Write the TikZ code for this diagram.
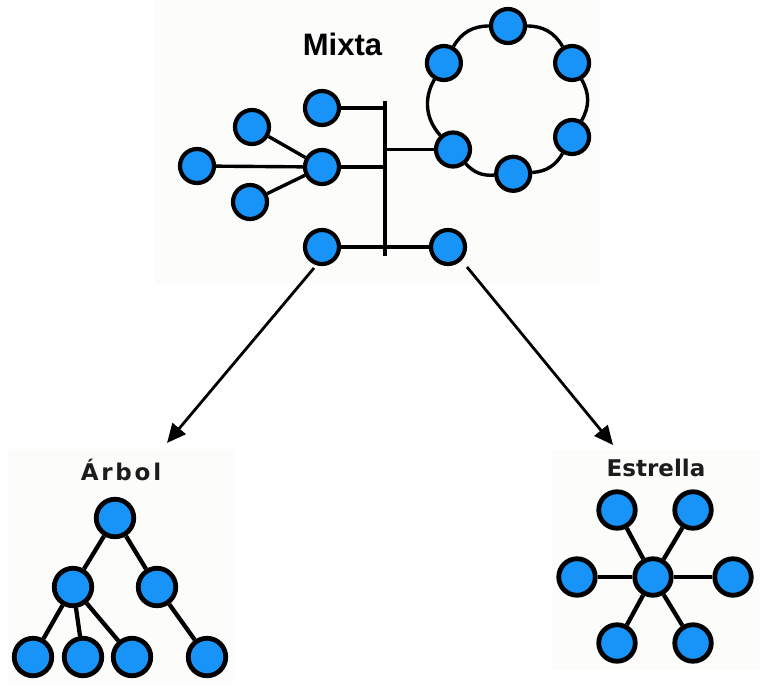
\documentclass[tikz,border=0pt]{standalone}
\usepackage{fontspec}
\usetikzlibrary{arrows.meta}
\newfontfamily\mixtafont{Liberation Sans}
\newfontfamily\handfontA[LetterSpace=12]{DejaVu Sans}
\newfontfamily\handfontB{DejaVu Sans}
\definecolor{nodeblue}{RGB}{24,148,248}
\definecolor{panelbg}{RGB}{252,252,250}
\definecolor{labelgray}{RGB}{28,28,28}
\tikzset{
  dot/.style={circle, draw=black, fill=nodeblue, line width=4.2pt, minimum size=34pt, inner sep=0pt},
  bigdot/.style={dot, line width=4.8pt, minimum size=37.5pt},
  stardot/.style={dot, line width=4.8pt, minimum size=36.5pt},
  link/.style={line width=3.4pt, draw=black},
  thicklink/.style={line width=4.3pt, draw=black},
  flow/.style={line width=2.8pt, draw=black, -{Triangle[length=19pt,width=17pt]}},
  title/.style={font=\mixtafont\bfseries\fontsize{31}{31}\selectfont, inner sep=0pt},
  handlabel/.style={text=labelgray, inner sep=0pt}
}
\begin{document}
\begin{tikzpicture}[x=1pt,y=-1pt]
\useasboundingbox (0,0) rectangle (767,685);
\fill[panelbg] (155,0) rectangle (600,285);
\fill[panelbg] (8,449) rectangle (233,685);
\fill[panelbg] (552,450) rectangle (760,670);

% ---------- Mixta ----------
\node[title] (mixta) at (342.5,44.5) {Mixta};
\coordinate (bustop) at (385,101);
\coordinate (busbot) at (385,256);

\node[dot] (ring1) at (443.9,63) {};
\node[dot] (ring2) at (508,26) {};
\node[dot] (ring3) at (572.1,63) {};
\node[dot] (ring4) at (572.1,137) {};
\node[dot] (ring5) at (513.2,173.8) {};
\node[dot] (ring6) at (453,149.5) {};
\node[dot] (top) at (322,108) {};
\node[dot] (hub) at (322,167) {};
\node[dot] (hubl) at (197,166) {};
\node[dot] (hubul) at (252,127) {};
\node[dot] (hubll) at (250,202) {};
\node[dot] (botl) at (322,247) {};
\node[dot] (botr) at (448,247) {};

\draw[link] (bustop) -- (busbot);
\draw[link] (top) -- (top -| bustop);
\draw[link] (hub) -- (hub -| bustop);
\draw[link] (ring6 -| bustop) -- (ring6);
\draw[link] (botl) -- (botr);
\draw[link] (hub) -- (hubl);
\draw[link] (hub) -- (hubul);
\draw[link] (hub) -- (hubll);
\draw[link] (ring1) to[bend left=30] (ring2);
\draw[link] (ring2) to[bend left=30] (ring3);
\draw[link] (ring3) to[bend left=30] (ring4);
\draw[link] (ring4) to[bend left=28] (ring5);
\draw[link] (ring5) to[bend left=26] (ring6);
\draw[link] (ring6) to[bend left=36] (ring1);

% ---------- Arbol ----------
\node[handlabel, font=\handfontA\bfseries\fontsize{23}{23}\selectfont, anchor=base] (arbol) at (121,480.5) {Árbol};
\node[bigdot] (root) at (115,518) {};
\node[bigdot] (ml) at (73,587) {};
\node[bigdot] (mr) at (157,587) {};
\node[bigdot] (lf1) at (33,657) {};
\node[bigdot] (lf2) at (83,657) {};
\node[bigdot] (lf3) at (132,657) {};
\node[bigdot] (lf4) at (207,657) {};
\draw[thicklink] (root) -- (ml);
\draw[thicklink] (root) -- (mr);
\draw[thicklink] (ml) -- (lf1);
\draw[thicklink] (ml) -- (lf2);
\draw[thicklink] (ml) -- (lf3);
\draw[thicklink] (mr) -- (lf4);

% ---------- Estrella ----------
\node[handlabel, font=\handfontB\bfseries\fontsize{23}{23}\selectfont, anchor=base] (estrella) at (656,476) {Estrella};
\node[stardot] (sc) at (653,577) {};
\node[stardot] (stl) at (617,510) {};
\node[stardot] (str) at (693,510) {};
\node[stardot] (sl) at (577,577) {};
\node[stardot] (sr) at (733,577) {};
\node[stardot] (sbl) at (617,643) {};
\node[stardot] (sbr) at (693,643) {};
\draw[thicklink] (sc) -- (stl);
\draw[thicklink] (sc) -- (str);
\draw[thicklink] (sc) -- (sl);
\draw[thicklink] (sc) -- (sr);
\draw[thicklink] (sc) -- (sbl);
\draw[thicklink] (sc) -- (sbr);

% ---------- arrows ----------
\coordinate (a1s) at (314,268);
\coordinate (a1e) at (167,443);
\coordinate (a2s) at (467,267);
\coordinate (a2e) at (613,445);
\draw[flow] (a1s) -- (a1e);
\draw[flow] (a2s) -- (a2e);
\end{tikzpicture}
\end{document}
